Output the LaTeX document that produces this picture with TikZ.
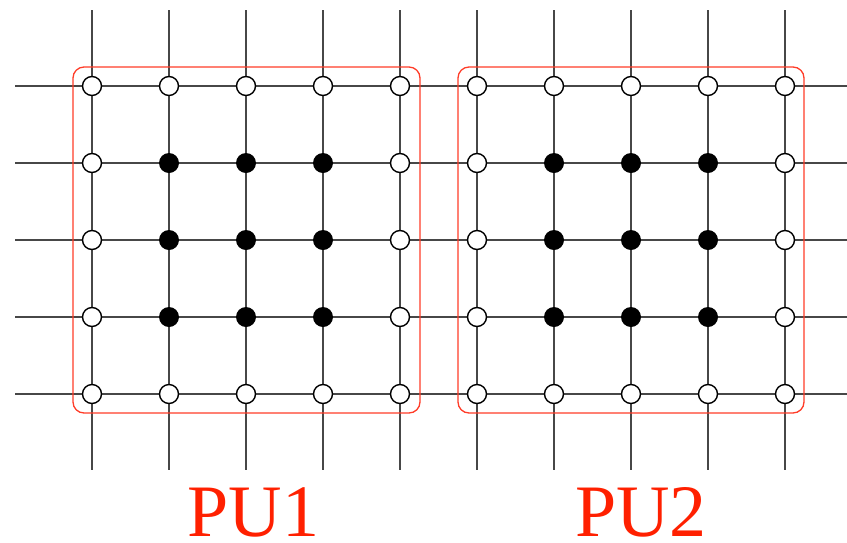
\documentclass[tikz,border=0pt]{standalone}
\usepackage{fontspec}
\setmainfont{Liberation Serif}
\definecolor{unitred}{RGB}{255,60,40}
\definecolor{labelred}{RGB}{255,32,0}
\begin{document}
\begin{tikzpicture}[x=1pt,y=-1pt,
  gridline/.style={draw=black!72,line width=1.5pt},
  boundary/.style={circle,draw=black,line width=1.4pt,fill=white,minimum size=19pt,inner sep=0pt},
  interior/.style={circle,fill=black,minimum size=20pt,inner sep=0pt},
  unitbox/.style={draw=unitred,line width=1.3pt,rounded corners=11pt},
  unitlabel/.style={text=labelred,font=\fontsize{74}{80}\selectfont,anchor=base,inner sep=0pt,text depth=0pt}]
\useasboundingbox (0,0) rectangle (847,542);
% free ends of the grid lines
\foreach \i in {0,...,9} {
  \coordinate (top\i) at ({92+77*\i},10);
  \coordinate (bot\i) at ({92+77*\i},470);
}
\foreach \j in {0,...,4} {
  \coordinate (lft\j) at (15,{86+77*\j});
  \coordinate (rgt\j) at (847,{86+77*\j});
}
% the grid
\foreach \i in {0,...,9} \draw[gridline] (top\i) -- (bot\i);
\foreach \j in {0,...,4} \draw[gridline] (lft\j) -- (rgt\j);
% processing unit outlines
\draw[unitbox] (73,67) rectangle (420,413);
\draw[unitbox] (458,67) rectangle (804,413);
% grid points: interior points filled, boundary points open
\foreach \i in {0,...,9} {
  \foreach \j in {0,...,4} {
    \pgfmathtruncatemacro{\k}{mod(\i,5)}
    \ifnum\j>0 \ifnum\j<4 \ifnum\k>0 \ifnum\k<4
      \def\kind{interior}
    \else \def\kind{boundary}\fi
    \else \def\kind{boundary}\fi
    \else \def\kind{boundary}\fi
    \else \def\kind{boundary}\fi
    \node[\kind] (p\i-\j) at ({92+77*\i},{86+77*\j}) {};
  }
}
\node[unitlabel] (pu1) at (253.5,536) {PU1};
\node[unitlabel] (pu2) at (641,536) {PU2};
\end{tikzpicture}
\end{document}
